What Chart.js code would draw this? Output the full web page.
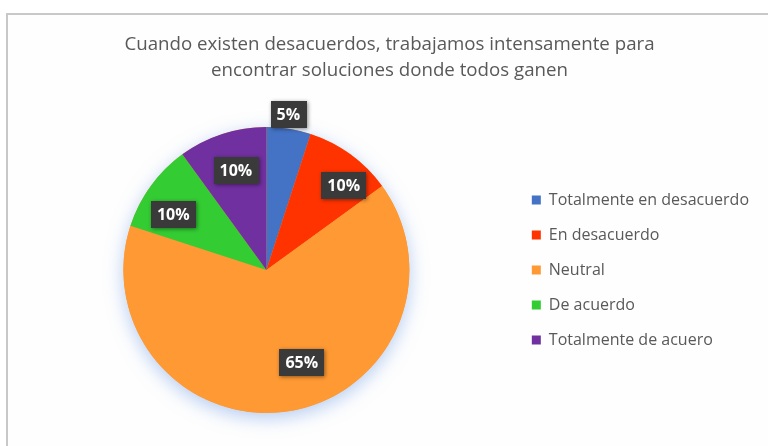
<!DOCTYPE html>
<html lang="es">
<head>
<meta charset="utf-8">
<title>Cuando existen desacuerdos</title>
<script src="https://cdn.jsdelivr.net/npm/chart.js@4/dist/chart.umd.min.js"></script>
<style>
  html, body { margin: 0; padding: 0; background: #ffffff; }
  #wrap { position: relative; width: 768px; height: 446px; overflow: hidden; }
  #frame {
    position: absolute; left: 6px; top: 13px; width: 800px; height: 500px;
    border-top: 2px solid #c8c8c8; border-left: 2px solid #c8c8c8;
    background: #fefefe; box-sizing: border-box;
  }
  #chart { position: absolute; left: 0; top: 0; }
</style>
</head>
<body>
<div id="wrap">
  <div id="frame"></div>
  <canvas id="chart" width="768" height="446"></canvas>
</div>
<script>
// Survey answers and their share of responses (percent)
const categories = [
  'Totalmente en desacuerdo',
  'En desacuerdo',
  'Neutral',
  'De acuerdo',
  'Totalmente de acuero'
];
const percentages = [5, 10, 65, 10, 10];
const sliceColors = ['#4472C4', '#FF3300', '#FF9933', '#33CC33', '#7030A0'];
const titleLines = [
  'Cuando existen desacuerdos, trabajamos intensamente para',
  'encontrar soluciones donde todos ganen'
];

const FONT = "'Open Sans', 'Liberation Sans', sans-serif";

// Soft glow under the whole pie, drawn once so slices don't shade each other
const pieGlow = {
  id: 'pieGlow',
  beforeDatasetsDraw(chart) {
    const arc = chart.getDatasetMeta(0).data[0];
    if (!arc) return;
    const { x, y, outerRadius } = arc.getProps(['x', 'y', 'outerRadius'], true);
    const ctx = chart.ctx;
    ctx.save();
    ctx.shadowColor = 'rgba(110, 155, 230, 0.5)';
    ctx.shadowBlur = 18;
    ctx.shadowOffsetY = 5;
    ctx.beginPath();
    ctx.arc(x, y, outerRadius, 0, Math.PI * 2);
    ctx.fillStyle = '#ff9933';
    ctx.fill();
    ctx.restore();
  }
};

// Percent tags in dark boxes, placed along each slice's bisector
const sliceTags = {
  id: 'sliceTags',
  afterDatasetsDraw(chart, args, opts) {
    const ctx = chart.ctx;
    const meta = chart.getDatasetMeta(0);
    const values = chart.data.datasets[0].data;
    ctx.save();
    ctx.font = `bold ${opts.fontSize}px ${FONT}`;
    ctx.textAlign = 'center';
    ctx.textBaseline = 'middle';
    meta.data.forEach((arc, i) => {
      const p = arc.getProps(['x', 'y', 'startAngle', 'endAngle', 'outerRadius'], true);
      const mid = (p.startAngle + p.endAngle) / 2 + (opts.angleShift[i] || 0) * Math.PI / 180;
      const r = p.outerRadius * opts.radial[i];
      const cx = p.x + Math.cos(mid) * r;
      const cy = p.y + Math.sin(mid) * r;
      const text = values[i] + '%';
      const w = ctx.measureText(text).width + opts.padX * 2;
      const h = opts.boxHeight;
      ctx.save();
      ctx.shadowColor = 'rgba(0,0,0,0.45)';
      ctx.shadowBlur = 4;
      ctx.shadowOffsetX = 1;
      ctx.shadowOffsetY = 1;
      ctx.fillStyle = '#3a3a3a';
      ctx.fillRect(Math.round(cx - w / 2), Math.round(cy - h / 2), Math.round(w), h);
      ctx.restore();
      ctx.fillStyle = '#ffffff';
      ctx.fillText(text, cx, cy + 1);
    });
    ctx.restore();
  }
};

new Chart(document.getElementById('chart'), {
  type: 'pie',
  data: {
    labels: categories,
    datasets: [{
      data: percentages,
      backgroundColor: sliceColors,
      borderWidth: 0
    }]
  },
  options: {
    responsive: false,
    animation: false,
    devicePixelRatio: 1,
    layout: { padding: { top: 0, left: 20, right: 9, bottom: 33 } },
    plugins: {
      title: {
        display: true,
        text: titleLines,
        color: '#595959',
        font: { family: FONT, size: 18.7, weight: 'normal', lineHeight: 26 / 18.7 },
        padding: { top: 32, bottom: 43 }
      },
      legend: {
        display: true,
        position: 'right',
        fullSize: false,
        labels: {
          color: '#595959',
          font: { family: FONT, size: 16 },
          boxWidth: 9,
          boxHeight: 9,
          padding: 19
        }
      },
      tooltip: { enabled: false },
      sliceTags: {
        radial: [1.10, 0.80, 0.69, 0.76, 0.73],
        angleShift: [-1, 6.5, -12, -5, 1],
        fontSize: 16,
        padX: 6,
        boxHeight: 27
      }
    }
  },
  plugins: [pieGlow, sliceTags]
});
</script>
</body>
</html>
